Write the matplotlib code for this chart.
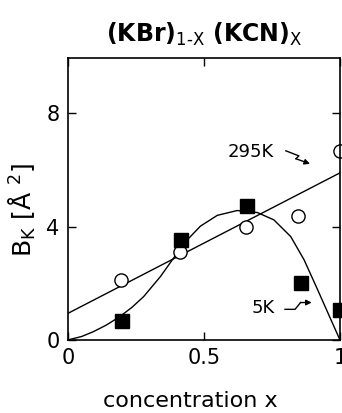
import numpy as np
import matplotlib
matplotlib.use("Agg")
import matplotlib.pyplot as plt

# 295 K data (open circles) and fitted straight line
x_295 = [0.195, 0.413, 0.653, 0.847, 1.0]
b_295 = [2.12, 3.12, 4.00, 4.39, 6.69]
line_295_x = [0.0, 1.0]
line_295_y = [0.94, 5.9]

# 5 K data (filled squares) and guide curve
x_5 = [0.20, 0.416, 0.657, 0.856, 1.0]
b_5 = [0.65, 3.53, 4.73, 2.00, 1.06]
curve_5_x = [0.0, 0.05, 0.093, 0.14, 0.19, 0.235, 0.278, 0.34, 0.388, 0.438, 0.487,
             0.549, 0.622, 0.696, 0.757, 0.819, 0.868, 0.918, 0.967, 1.0]
curve_5_y = [0.0, 0.12, 0.29, 0.52, 0.82, 1.15, 1.53, 2.24, 2.89, 3.53, 4.02,
             4.40, 4.57, 4.50, 4.24, 3.65, 2.83, 1.77, 0.71, 0.0]

x_ticks = [0, 0.5, 1]
x_ticklabels = ["0", "0.5", "1"]
y_ticks = [0, 4, 8]

fig = plt.figure(figsize=(3.42, 4.13), dpi=100)
ax = fig.add_axes([0.199, 0.177, 0.795, 0.682])

ax.plot(line_295_x, line_295_y, color="black", lw=1.0)
ax.plot(curve_5_x, curve_5_y, color="black", lw=1.0)
ax.plot(x_295, b_295, "o", ms=9.5, mfc="white", mec="black", mew=1.0, clip_on=False)
ax.plot(x_5, b_5, "s", ms=9.5, mfc="black", mec="black", clip_on=False)

ax.set_xlim(0, 1)
ax.set_ylim(0, 9.95)
ax.set_xticks(x_ticks)
ax.set_xticklabels(x_ticklabels)
ax.set_yticks(y_ticks)
ax.tick_params(direction="in", top=True, right=True, length=6, width=1,
               labelsize=15, pad=6)
for s in ax.spines.values():
    s.set_linewidth(1.2)

ax.set_title("(KBr)$_{\\mathrm{1\\text{-}X}}$ (KCN)$_{\\mathrm{X}}$", fontsize=17,
             fontweight="bold", pad=12)
ax.set_xlabel("concentration x", fontsize=16)
ax.xaxis.set_label_coords(0.45, -0.18)
ax.set_ylabel("B$_{\\mathrm{K}}$ [Å $^2$]", fontsize=18)
ax.yaxis.set_label_coords(-0.11, 0.46)

# labels with small zigzag arrows
ax.text(0.588, 6.64, "295K", fontsize=13, va="center", ha="left")
ax.plot([0.801, 0.849, 0.838], [6.68, 6.50, 6.40], color="black", lw=1.0)
ax.annotate("", xy=(0.89, 6.22), xytext=(0.838, 6.40),
            arrowprops=dict(arrowstyle="-|>", color="black", lw=1.0,
                            mutation_scale=8, shrinkA=0, shrinkB=0))
ax.text(0.676, 1.13, "5K", fontsize=13, va="center", ha="left")
ax.plot([0.798, 0.835, 0.855], [1.08, 1.08, 1.32], color="black", lw=1.0)
ax.annotate("", xy=(0.896, 1.32), xytext=(0.855, 1.32),
            arrowprops=dict(arrowstyle="-|>", color="black", lw=1.0,
                            mutation_scale=8, shrinkA=0, shrinkB=0))

fig.savefig("out.png", dpi=100)
